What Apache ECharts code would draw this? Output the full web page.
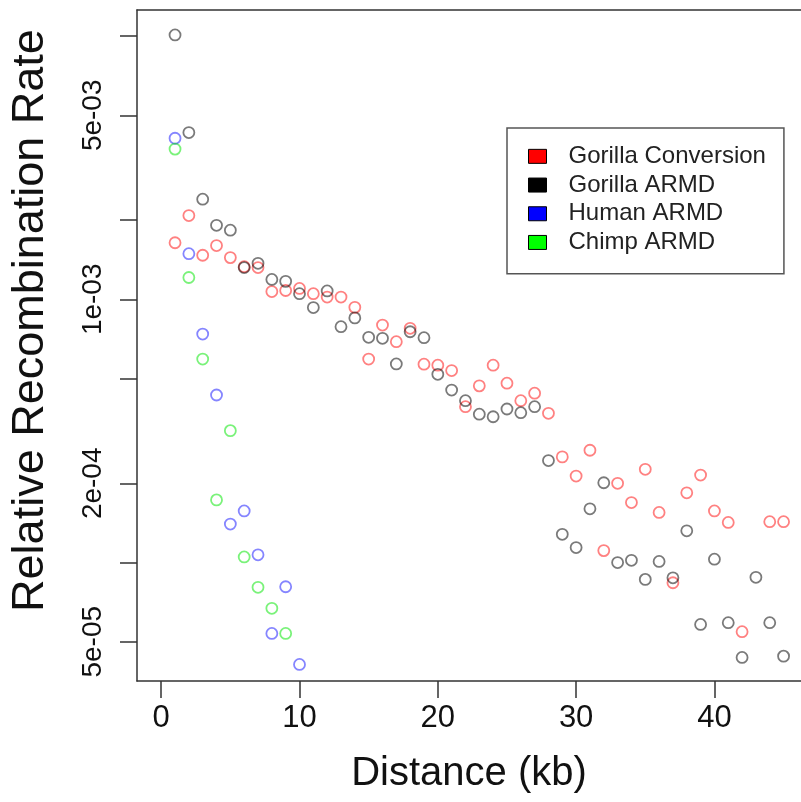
<!DOCTYPE html>
<html>
<head>
<meta charset="utf-8">
<script src="https://cdn.jsdelivr.net/npm/echarts@6/dist/echarts.min.js"></script>
<style>
html,body{margin:0;padding:0;background:#fff;}
#chart{width:801px;height:802px;}
</style>
</head>
<body>
<div id="chart"></div>
<script>
// Data (relative recombination rate vs distance in kb)
const convDist = [1,2,3,4,5,6,7,8,9,10,11,12,13,14,15,16,17,18,19,20,21,22,23,24,25,26,27,28,29,30,31,32,33,34,35,36,37,38,39,40,41,42,44,45];
const gorillaConversion = [1.64e-3,2.08e-3,1.47e-3,1.60e-3,1.44e-3,1.33e-3,1.32e-3,1.07e-3,1.08e-3,1.10e-3,1.05e-3,1.02e-3,1.02e-3,9.32e-4,5.93e-4,7.98e-4,6.90e-4,7.76e-4,5.67e-4,5.62e-4,5.36e-4,3.91e-4,4.69e-4,5.62e-4,4.80e-4,4.12e-4,4.40e-4,3.69e-4,2.52e-4,2.13e-4,2.67e-4,1.11e-4,2.0e-4,1.69e-4,2.26e-4,1.55e-4,8.38e-5,1.84e-4,2.15e-4,1.57e-4,1.42e-4,5.46e-5,1.43e-4,1.43e-4];

const gorillaDist = [1,2,3,4,5,6,7,8,9,10,11,12,13,14,15,16,17,18,19,20,21,22,23,24,25,26,27,28,29,30,31,32,33,34,35,36,37,38,39,40,41,42,43,44,45];
const gorillaArmd = [1.01e-2,4.30e-3,2.40e-3,1.91e-3,1.83e-3,1.32e-3,1.37e-3,1.19e-3,1.17e-3,1.05e-3,9.3e-4,1.076e-3,7.87e-4,8.5e-4,7.17e-4,7.11e-4,5.68e-4,7.53e-4,7.15e-4,5.19e-4,4.52e-4,4.12e-4,3.66e-4,3.58e-4,3.83e-4,3.71e-4,3.91e-4,2.44e-4,1.28e-4,1.14e-4,1.60e-4,2.01e-4,1.0e-4,1.02e-4,8.63e-5,1.01e-4,8.75e-5,1.32e-4,5.82e-5,1.03e-4,5.91e-5,4.36e-5,8.79e-5,5.91e-5,4.41e-5];

const humanDist = [1,2,3,4,5,6,7,8,9,10];
const humanArmd = [4.09e-3,1.49e-3,7.38e-4,4.33e-4,1.40e-4,1.57e-4,1.07e-4,5.38e-5,8.09e-5,4.10e-5];

const chimpDist = [1,2,3,4,5,6,7,8,9];
const chimpArmd = [3.72e-3,1.21e-3,5.93e-4,1.73e-4,3.17e-4,1.05e-4,8.05e-5,6.70e-5,5.38e-5];

const xTicks = [0,10,20,30,40];
const yTickValues = [1e-2,5e-3,2e-3,1e-3,5e-4,2e-4,1e-4,5e-5];
const yLabelValues = [5e-3,1e-3,2e-4,5e-5];
const yLabelTexts = ['5e-03','1e-03','2e-04','5e-05'];

const seriesNames = ['Gorilla Conversion','Gorilla ARMD','Human ARMD','Chimp ARMD'];
const strokeColors = ['rgba(255,0,0,0.62)','rgba(0,0,0,0.65)','rgba(0,0,255,0.6)','rgba(0,230,0,0.65)'];
const legendFills = ['#ff0000','#000000','#0000ff','#00ff00'];

const lg = v => Math.log10(v);
function pairs(xs, ys){ return xs.map((x,i)=>[x, lg(ys[i])]); }

const seriesData = [
  pairs(convDist, gorillaConversion),
  pairs(gorillaDist, gorillaArmd),
  pairs(humanDist, humanArmd),
  pairs(chimpDist, chimpArmd)
];

const chart = echarts.init(document.getElementById('chart'), null, {renderer:'canvas'});
const font = 'Liberation Sans, Arial, Helvetica, sans-serif';
const boxLine = {show: true, onZero: false, lineStyle: {color: '#333', width: 1.5}};

const option = {
  animation: false,
  backgroundColor: '#fff',
  grid: {
    left: 137, top: 10, right: 0, bottom: 121,
    show: false, containLabel: false
  },
  xAxis: [{
    type: 'value', min: -1.75, max: 46.26, position: 'bottom',
    name: 'Distance (kb)', nameLocation: 'middle', nameGap: 73,
    nameTextStyle: {fontFamily: font, fontSize: 40, color: '#111'},
    axisLine: boxLine,
    axisTick: {show: true, inside: false, length: 17, customValues: xTicks, lineStyle: {color: '#333', width: 1.5}},
    axisLabel: {customValues: xTicks, margin: 22, fontFamily: font, fontSize: 31, color: '#111'},
    splitLine: {show: false}
  }, {
    type: 'value', min: -1.75, max: 46.26, position: 'top',
    axisLine: boxLine, axisTick: {show: false}, axisLabel: {show: false}, splitLine: {show: false}
  }],
  yAxis: {
    type: 'value', min: -4.45, max: -1.901, position: 'left',
    name: 'Relative Recombination Rate', nameLocation: 'middle', nameGap: 84,
    nameTextStyle: {fontFamily: font, fontSize: 45, color: '#111', padding: [0, 0, 0, 50]},
    axisLine: boxLine,
    axisTick: {show: true, inside: false, length: 17, customValues: yTickValues.map(lg), lineStyle: {color: '#333', width: 1.5}},
    axisLabel: {
      customValues: yLabelValues.map(lg), rotate: 90, margin: 30,
      fontFamily: font, fontSize: 28, color: '#111',
      formatter: function(v){
        let best = 0, bd = Infinity;
        yLabelValues.forEach((t,i)=>{ const d = Math.abs(lg(t)-v); if(d<bd){bd=d;best=i;} });
        return yLabelTexts[best];
      }
    },
    splitLine: {show: false}
  },
  legend: {
    show: true, orient: 'vertical', left: 507, top: 128,
    padding: [14, 18, 17, 21],
    borderColor: '#555', borderWidth: 1.5, backgroundColor: '#fff',
    itemWidth: 18, itemHeight: 14, itemGap: 0,
    textStyle: {fontFamily: font, fontSize: 24, color: '#222', lineHeight: 28.7, padding: [0,0,0,17]},
    data: seriesNames.map((n,i)=>({name: n, icon: 'rect', itemStyle: {color: legendFills[i], opacity: 1, borderColor: '#000', borderWidth: 1}}))
  },
  series: seriesNames.map((n,i)=>({
    name: n, type: 'scatter', symbol: 'circle', symbolSize: 11,
    data: seriesData[i],
    itemStyle: {color: 'rgba(0,0,0,0)', borderColor: strokeColors[i], borderWidth: 1.8},
    emphasis: {disabled: true}
  }))
};
chart.setOption(option);
</script>
</body>
</html>
